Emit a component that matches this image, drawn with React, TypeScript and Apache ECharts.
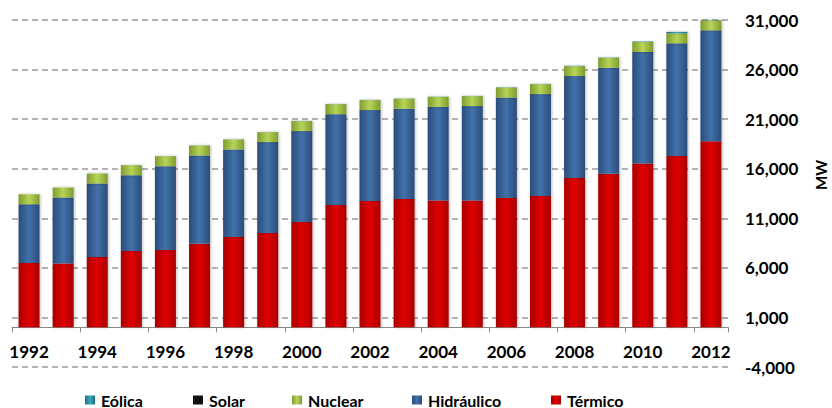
import React, { useEffect, useRef } from "react";
import * as echarts from "echarts";

const years = [
  "1992", "1993", "1994", "1995", "1996", "1997", "1998", "1999", "2000", "2001", "2002",
  "2003", "2004", "2005", "2006", "2007", "2008", "2009", "2010", "2011", "2012",
];
const termico = [
  6480, 6450, 7090, 7700, 7800, 8440, 9110, 9520, 10630, 12350, 12750,
  12950, 12800, 12800, 13050, 13250, 15070, 15480, 16520, 17290, 18780,
];
const hidraulico = [
  5935, 6645, 7415, 7645, 8455, 8895, 8835, 9165, 9165, 9155, 9165,
  9105, 9445, 9515, 10145, 10275, 10275, 10705, 11255, 11355, 11175,
];
const nuclear = [
  1005, 1005, 1005, 1005, 1005, 1005, 1005, 1005, 1005, 1005, 1005,
  1005, 1005, 1005, 1005, 1005, 1005, 1005, 1005, 1005, 1005,
];
const solar = [
  0, 0, 0, 0, 0, 0, 0, 0, 0, 0, 0,
  0, 0, 0, 0, 0, 0, 0, 0, 1, 8,
];
const eolica = [
  0, 0, 10, 10, 10, 10, 10, 10, 20, 20, 20,
  20, 20, 20, 20, 20, 30, 30, 50, 150, 160,
];
const yTicks = { min: -4000, max: 31000, interval: 5000 };

const FONT = "Lato";

function grad(edge: string, center: string) {
  return new echarts.graphic.LinearGradient(0, 0, 1, 0, [
    { offset: 0, color: edge },
    { offset: 0.5, color: center },
    { offset: 1, color: edge },
  ]);
}

export default function App() {
  const ref = useRef<HTMLDivElement>(null);
  useEffect(() => {
    if (!ref.current) return;
    const chart = echarts.init(ref.current, null, { renderer: "svg" });
    const gridTop = 20;
    const gridBottom = 41;
    const plotH = 408 - gridTop - gridBottom;
    // shift the category axis up to the zero value line
    const zeroOffset = -((0 - yTicks.min) / (yTicks.max - yTicks.min)) * plotH;
    const mk = (name: string, data: number[], color: any, legendColor: string) => ({
      name,
      type: "bar",
      stack: "total",
      data,
      barWidth: 21,
      itemStyle: { color, shadowColor: "rgba(0,0,0,0.25)", shadowBlur: 3, shadowOffsetX: 1 },
      color: legendColor,
    });
    const legendItem = (name: string, left: number) => ({
      data: [name],
      left,
      top: 392,
      itemWidth: 10,
      itemHeight: 9,
      itemGap: 5,
      icon: "rect",
      padding: 0,
      textStyle: { fontFamily: FONT, fontWeight: "bold", fontSize: 16, color: "#000", padding: [0, 0, 0, 1] },
      selectedMode: false,
    });
    chart.setOption({
      animation: false,
      backgroundColor: "#fff",
      grid: { left: 12, right: 104, top: gridTop, bottom: gridBottom },
      legend: [
        legendItem("Eólica", 85),
        legendItem("Solar", 193),
        legendItem("Nuclear", 292),
        legendItem("Hidráulico", 412),
        legendItem("Térmico", 551),
      ],
      xAxis: {
        type: "category",
        data: years,
        offset: zeroOffset,
        axisLine: { onZero: false, lineStyle: { color: "#888", width: 1 } },
        axisTick: { show: true, length: 5, lineStyle: { color: "#888" } },
        axisLabel: {
          interval: 1,
          margin: 16,
          fontFamily: FONT,
          fontWeight: "bold",
          fontSize: 17,
          color: "#000",
        },
      },
      yAxis: {
        type: "value",
        position: "right",
        min: yTicks.min,
        max: yTicks.max,
        interval: yTicks.interval,
        axisLine: { show: false },
        axisTick: { show: false },
        splitLine: { lineStyle: { color: "#999", type: [6, 4], width: 1.5 } },
        axisLabel: {
          margin: 17,
          fontFamily: FONT,
          fontWeight: "bold",
          fontSize: 17,
          color: "#000",
          formatter: (v: number) => v.toLocaleString("en-US"),
        },
      },
      graphic: [
        {
          type: "text",
          x: 821,
          y: 175,
          rotation: Math.PI / 2,
          style: {
            text: "MW",
            fontFamily: FONT,
            fontWeight: "bold",
            fontSize: 15,
            fill: "#000",
            align: "center",
            verticalAlign: "middle",
          },
        },
      ],
      series: [
        mk("Térmico", termico, grad("#a80000", "#e00000"), "#d01010"),
        mk("Hidráulico", hidraulico, grad("#2a4c7a", "#4272aa"), "#3c6aa0"),
        mk("Nuclear", nuclear, grad("#7f9c2e", "#b8d457"), "#9aba3c"),
        mk("Solar", solar, "#111", "#111"),
        mk("Eólica", eolica, grad("#1f6c7c", "#3aa8c0"), "#3fb0d0"),
      ],
    });
    return () => chart.dispose();
  }, []);
  return (
    <div
      ref={ref}
      style={{ position: "fixed", left: 0, top: 0, width: 832, height: 408 }}
    />
  );
}
